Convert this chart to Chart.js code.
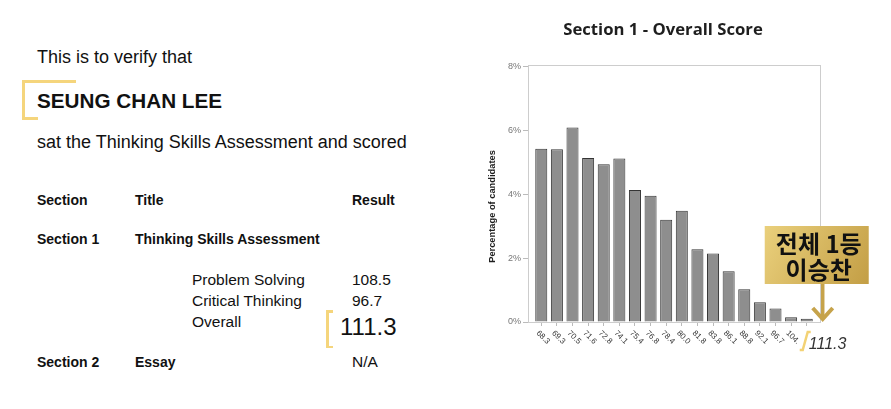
<!DOCTYPE html>
<html>
<head>
<meta charset="utf-8">
<script src="https://cdn.jsdelivr.net/npm/chart.js@4.4.1/dist/chart.umd.min.js"></script>
<style>
    html, body { margin: 0; padding: 0; background: #fff; }
    body { width: 891px; height: 409px; position: relative; overflow: hidden; font-family: "Liberation Sans", Arial, sans-serif; color: #111; }
    .t { position: absolute; white-space: nowrap; line-height: 1; }
    .b { font-weight: bold; }
    .gold { position: absolute; background: #f5d57c; }
    #chartBox { position: absolute; left: 440px; top: 0; width: 451px; height: 409px; }
</style>
</head>
<body>
<div class="t" style="left:37px; top:48px; font-size:18px;">This is to verify that</div>
<div class="gold" style="left:22px; top:80px; width:54px; height:3px;"></div>
<div class="gold" style="left:22px; top:80px; width:3px; height:40px;"></div>
<div class="gold" style="left:22px; top:117px; width:16px; height:3px;"></div>
<div class="t b" style="left:37px; top:90.5px; font-size:20.7px;">SEUNG CHAN LEE</div>
<div class="t" style="left:37px; top:133px; font-size:18px;">sat the Thinking Skills Assessment and scored</div>

<div class="t b" style="left:37px; top:193px; font-size:14px;">Section</div>
<div class="t b" style="left:135px; top:193px; font-size:14px;">Title</div>
<div class="t b" style="left:352px; top:193px; font-size:14px;">Result</div>
<div class="t b" style="left:37px; top:232px; font-size:14px;">Section 1</div>
<div class="t b" style="left:135px; top:232px; font-size:14px;">Thinking Skills Assessment</div>
<div class="t" style="left:192px; top:272px; font-size:15.5px;">Problem Solving</div>
<div class="t" style="left:352px; top:272px; font-size:15.5px;">108.5</div>
<div class="t" style="left:192px; top:293px; font-size:15.5px;">Critical Thinking</div>
<div class="t" style="left:352px; top:293px; font-size:15.5px;">96.7</div>
<div class="t" style="left:192px; top:313.5px; font-size:15.5px;">Overall</div>
<div class="gold" style="left:326px; top:310px; width:2.5px; height:38px;"></div>
<div class="gold" style="left:326px; top:310px; width:7px; height:2.5px;"></div>
<div class="gold" style="left:326px; top:345.5px; width:7px; height:2.5px;"></div>
<div class="t" style="left:340px; top:314.7px; font-size:24px;">111.3</div>
<div class="t b" style="left:37px; top:355px; font-size:14px;">Section 2</div>
<div class="t b" style="left:135px; top:355px; font-size:14px;">Essay</div>
<div class="t" style="left:352px; top:353.5px; font-size:15.5px;">N/A</div>

<div id="chartBox"><canvas id="scoreChart" width="451" height="409"></canvas></div>

<script>
const scoreLabels = ['68.3', '69.3', '70.5', '71.6', '72.8', '74.1', '75.4', '76.8', '78.4',
    '80.0', '81.8', '83.8', '86.1', '88.8', '92.1', '96.7', '104.', ''];
const candidatePct = [5.43, 5.42, 6.10, 5.14, 4.95, 5.13, 4.14, 3.96, 3.21,
    3.49, 2.28, 2.15, 1.59, 1.03, 0.62, 0.42, 0.15, 0.10];
const yTicks = [0, 2, 4, 6, 8];
const chartTitle = 'Section 1 - Overall Score';
const myScore = '111.3';
const rankText = ['전체 1등', '이승찬'];

const canvas = document.getElementById('scoreChart');
const ctx = canvas.getContext('2d');

// title, frame, rotated x labels, y title and the gold call-out
const extras = {
    id: 'extras',
    afterDraw(chart) {
        const {ctx, chartArea: a, scales: {x, y}} = chart;
        ctx.save();
        ctx.fillStyle = '#1e1e1e';
        ctx.font = 'bold 16.7px "Open Sans"';
        ctx.textAlign = 'center';
        ctx.textBaseline = 'middle';
        ctx.fillText(chartTitle, (a.left + a.right) / 2 - 11, 30);

        ctx.strokeStyle = '#cdcdcd';
        ctx.lineWidth = 1;
        ctx.strokeRect(a.left + 0.5, a.top + 0.5, a.right - a.left, a.bottom - a.top);

        ctx.fillStyle = '#333';
        ctx.font = '8px "Liberation Sans", Arial';
        ctx.textAlign = 'left';
        ctx.textBaseline = 'top';
        scoreLabels.forEach((label, i) => {
            ctx.save();
            ctx.translate(x.getPixelForValue(i) - 1, a.bottom + 7);
            ctx.rotate(Math.PI / 4);
            ctx.fillText(label, 0, 0);
            ctx.restore();
        });

        ctx.save();
        ctx.translate(a.left - 36, (a.top + a.bottom) / 2 + 13);
        ctx.rotate(-Math.PI / 2);
        ctx.fillStyle = '#1e1e1e';
        ctx.font = 'bold 9.3px "Liberation Sans", Arial';
        ctx.textAlign = 'center';
        ctx.textBaseline = 'middle';
        ctx.fillText('Percentage of candidates', 0, 0);
        ctx.restore();

        const last = candidatePct.length - 1;
        const px = x.getPixelForValue(last);
        const base = y.getPixelForValue(0);

        // call-out box
        const bx = px - 42, by = 226, bw = 104, bh = 58;
        const grad = ctx.createLinearGradient(bx, by, bx + bw, by + bh);
        grad.addColorStop(0, '#ead07c');
        grad.addColorStop(1, '#c39e45');
        ctx.fillStyle = grad;
        ctx.fillRect(bx, by, bw, bh);
        ctx.fillStyle = '#111';
        ctx.font = 'bold 24px "Noto Sans CJK KR"';
        ctx.textAlign = 'center';
        ctx.textBaseline = 'middle';
        ctx.fillText(rankText[0], bx + bw / 2 + 2, by + 18);
        ctx.fillText(rankText[1], bx + bw / 2 + 2, by + 44);

        // arrow down to the score
        const ax = px + 16;
        ctx.strokeStyle = '#c6a34b';
        ctx.lineWidth = 3.5;
        ctx.beginPath();
        ctx.moveTo(ax, by + bh);
        ctx.lineTo(ax, base - 3);
        ctx.stroke();
        ctx.lineWidth = 4;
        ctx.beginPath();
        ctx.moveTo(ax - 10, base - 14);
        ctx.lineTo(ax, base - 3);
        ctx.lineTo(ax + 10, base - 14);
        ctx.stroke();

        // score mark
        ctx.strokeStyle = '#f3d274';
        ctx.lineWidth = 2.5;
        ctx.beginPath();
        ctx.moveTo(px + 4, base + 10);
        ctx.lineTo(px + 1, base + 10);
        ctx.lineTo(px - 4, base + 28);
        ctx.lineTo(px - 7, base + 28);
        ctx.stroke();
        ctx.fillStyle = '#333';
        ctx.font = 'italic 16px "Liberation Sans", Arial';
        ctx.textAlign = 'left';
        ctx.textBaseline = 'alphabetic';
        ctx.fillText(myScore, px + 2, base + 27);
        ctx.restore();
    }
};

new Chart(ctx, {
    type: 'bar',
    data: {
        datasets: [{
            data: candidatePct.map((v, i) => ({x: i, y: v})),
            backgroundColor: '#8e8e8e',
            borderColor: '#353535',
            borderWidth: 1,
            barPercentage: 0.77,
            categoryPercentage: 1
        }]
    },
    options: {
        responsive: false,
        animation: false,
        layout: {padding: {left: 0, right: 71, top: 65, bottom: 0}},
        plugins: {
            legend: {display: false},
            tooltip: {enabled: false},
            title: {display: false}
        },
        scales: {
            x: {
                type: 'linear',
                offset: false,
                min: -0.85,
                max: scoreLabels.length - 0.15,
                afterBuildTicks: s => { s.ticks = scoreLabels.map((_, i) => ({value: i})); },
                afterFit: s => { s.height = 87; },
                ticks: {display: false},
                grid: {offset: false, drawOnChartArea: false, tickLength: 4, color: '#bbb'},
                border: {display: false}
            },
            y: {
                min: 0,
                max: 8.06,
                afterBuildTicks: s => { s.ticks = yTicks.map(v => ({value: v})); },
                afterFit: s => { s.width = 88; },
                ticks: {
                    color: '#777',
                    padding: 2,
                    font: {family: 'Liberation Sans', size: 9},
                    callback: v => v + '%'
                },
                grid: {drawOnChartArea: false, tickLength: 5, color: '#bbb'},
                border: {display: false}
            }
        }
    },
    plugins: [extras]
});
</script>
</body>
</html>
